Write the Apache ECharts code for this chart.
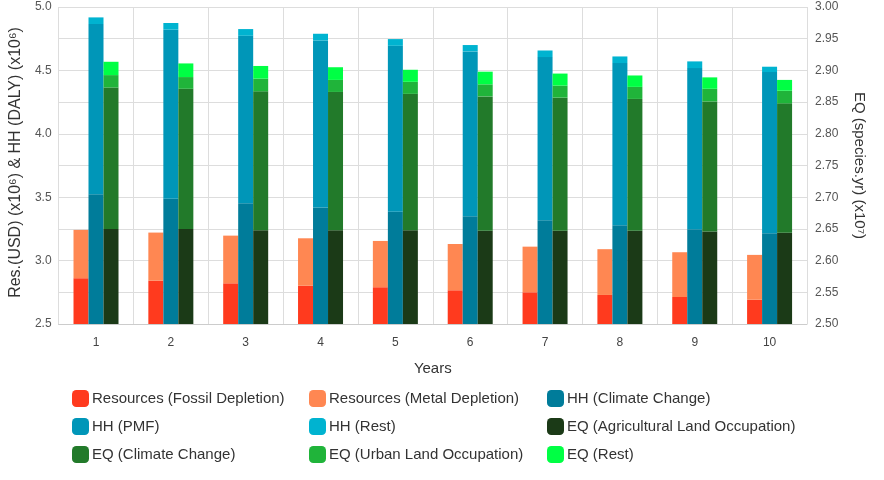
<!DOCTYPE html>
<html><head><meta charset="utf-8">
<script src="https://cdn.jsdelivr.net/npm/echarts@6/dist/echarts.min.js"></script>
<style>html,body{margin:0;padding:0;background:#fff}#c{width:884px;height:480px}</style>
</head><body><div id="c"></div>
<script>
var years = ['1','2','3','4','5','6','7','8','9','10'];
// Left axis (x10^6): segment values
var resFossil = [2.861, 2.842, 2.821, 2.802, 2.790, 2.766, 2.750, 2.729, 2.713, 2.692];
var resMetal  = [0.381, 0.379, 0.376, 0.374, 0.365, 0.365, 0.360, 0.361, 0.353, 0.353];
var hhCC      = [3.524, 3.487, 3.453, 3.418, 3.386, 3.350, 3.318, 3.279, 3.247, 3.216];
var hhPMF     = [1.342, 1.334, 1.320, 1.318, 1.308, 1.300, 1.287, 1.279, 1.271, 1.271];
var hhRest    = [0.052, 0.053, 0.053, 0.053, 0.053, 0.050, 0.052, 0.052, 0.053, 0.042];
// Right axis (x10^7): segment values
var eqAgri    = [2.650, 2.650, 2.648, 2.648, 2.648, 2.647, 2.647, 2.647, 2.646, 2.644];
var eqCC      = [0.223, 0.221, 0.219, 0.218, 0.215, 0.212, 0.210, 0.208, 0.205, 0.204];
var eqUrban   = [0.0196, 0.0185, 0.020, 0.019, 0.019, 0.019, 0.019, 0.019, 0.020, 0.020];
var eqRest    = [0.021, 0.0215, 0.020, 0.020, 0.019, 0.020, 0.019, 0.018, 0.018, 0.017];

var names = ['Resources (Fossil Depletion)','Resources (Metal Depletion)','HH (Climate Change)',
  'HH (PMF)','HH (Rest)','EQ (Agricultural Land Occupation)','EQ (Climate Change)',
  'EQ (Urban Land Occupation)','EQ (Rest)'];
var colors = ['#ff3a1e','#ff8752','#007c9a','#0096b8','#00b3d0','#1b3a17','#227a2a','#20b43a','#00ff44'];
var datas = [resFossil,resMetal,hhCC,hhPMF,hhRest,eqAgri,eqCC,eqUrban,eqRest];
var stacks = ['res','res','hh','hh','hh','eq','eq','eq','eq'];
var axisIdx = [0,0,0,0,0,1,1,1,1];

var series = names.map(function(n,i){
  return {name:n,type:'bar',stack:stacks[i],yAxisIndex:axisIdx[i],data:datas[i],
    barWidth:15,barGap:'0%',itemStyle:{color:colors[i]},animation:false};
});
var FONT = 'Liberation Sans';
function leg(left, items){
  return {orient:'vertical',left:left,top:385,itemWidth:17,itemHeight:17,itemGap:11,
    icon:'roundRect',data:items,selectedMode:false,
    textStyle:{fontFamily:FONT,fontSize:15,color:'#333',padding:[0,0,0,-2]}};
}
var chart = echarts.init(document.getElementById('c'));
chart.setOption({
  animation:false,
  textStyle:{fontFamily:FONT},
  grid:{left:57,right:77,top:7,bottom:156},
  legend:[leg(67,[names[0],names[3],names[6]]),leg(304,[names[1],names[4],names[7]]),leg(542,[names[2],names[5],names[8]])],
  xAxis:{type:'category',data:years,name:'Years',nameLocation:'middle',nameGap:37,
    nameTextStyle:{fontSize:15,color:'#333'},
    axisLine:{lineStyle:{color:'#ccc'}},axisTick:{show:false},
    axisLabel:{fontSize:12,color:'#444',margin:13},
    splitLine:{show:true,lineStyle:{color:'#ddd'}}},
  yAxis:[
    {type:'value',min:2.5,max:5.0,interval:0.5,position:'left',
     name:'Res.(USD) (x10\u2076) & HH (DALY) (x10\u2076)',nameLocation:'middle',nameGap:33,nameRotate:90,
     nameTextStyle:{fontSize:16,color:'#333',padding:[0,0,0,6]},
     axisLine:{show:false},axisTick:{show:false},
     axisLabel:{fontSize:12,color:'#555',margin:7,formatter:function(v){return v.toFixed(1);}},
     splitLine:{show:false}},
    {type:'value',min:2.5,max:3.0,interval:0.05,position:'right',
     name:'EQ (species.yr) (x10\u2077)',nameLocation:'middle',nameGap:45,nameRotate:-90,
     nameTextStyle:{fontSize:15,color:'#333'},
     axisLine:{show:false},axisTick:{show:false},
     axisLabel:{fontSize:12,color:'#555',margin:8,formatter:function(v){return v.toFixed(2);}},
     splitLine:{show:true,lineStyle:{color:'#ddd'}}}
  ],
  series:series
});
</script></body></html>
